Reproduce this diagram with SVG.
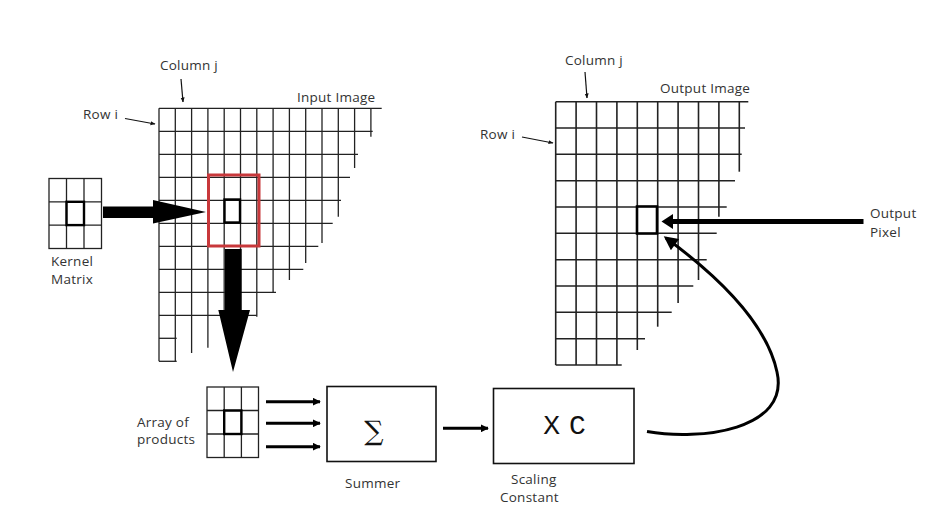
<svg xmlns="http://www.w3.org/2000/svg" width="930" height="525" viewBox="0 0 930 525">
<style>
  .t { font-family: "Open Sans", "DejaVu Sans", sans-serif; font-size: 13.5px; letter-spacing: 0.25px; fill: #333; }
  .g { stroke: #222; stroke-width: 1.3; fill: none; }
  .go { stroke: #222; stroke-width: 1.6; fill: none; }
  .thin { stroke: #111; stroke-width: 1.2; fill: none; }
  .box { stroke: #111; stroke-width: 1.6; fill: #fff; }
  .bold { stroke: #000; stroke-width: 2.4; fill: none; }
</style>
<defs>
  <marker id="sm" viewBox="0 0 10 10" refX="9" refY="5" markerWidth="5" markerHeight="5" orient="auto" markerUnits="userSpaceOnUse">
    <path d="M0,1 L10,5 L0,9 z" fill="#111"/>
  </marker>
  <marker id="md" viewBox="0 0 10 10" refX="9" refY="5" markerWidth="8" markerHeight="8" orient="auto" markerUnits="userSpaceOnUse">
    <path d="M0,0 L10,5 L0,10 z" fill="#000"/>
  </marker>
  <marker id="cv" viewBox="0 0 10 10" refX="8" refY="5" markerWidth="16" markerHeight="14" orient="auto" markerUnits="userSpaceOnUse">
    <path d="M0,0 L10,5 L0,10 z" fill="#000"/>
  </marker>
</defs>
<rect width="930" height="525" fill="#fff"/>

<g id="input-image">
  <g class="g">
    <line x1="159" y1="108.3" x2="381.7" y2="108.3"/>
    <line x1="159" y1="131.3" x2="372.7" y2="131.3"/>
    <line x1="159" y1="154.3" x2="358" y2="154.3"/>
    <line x1="159" y1="177.3" x2="350" y2="177.3"/>
    <line x1="159" y1="200.3" x2="341" y2="200.3"/>
    <line x1="159" y1="223.3" x2="332.7" y2="223.3"/>
    <line x1="159" y1="246.3" x2="318.3" y2="246.3"/>
    <line x1="159" y1="269.3" x2="303.3" y2="269.3"/>
    <line x1="159" y1="292.3" x2="276" y2="292.3"/>
    <line x1="159" y1="315.3" x2="256.7" y2="315.3"/>
    <line x1="159" y1="338.3" x2="176.7" y2="338.3"/>
    <line x1="159" y1="361.3" x2="176.7" y2="361.3"/>
    <line x1="159" y1="108.3" x2="159" y2="361.3"/>
    <line x1="175.3" y1="108.3" x2="175.3" y2="361.3"/>
    <line x1="191.6" y1="108.3" x2="191.6" y2="353"/>
    <line x1="207.9" y1="108.3" x2="207.9" y2="347.7"/>
    <line x1="224.2" y1="108.3" x2="224.2" y2="325"/>
    <line x1="240.5" y1="108.3" x2="240.5" y2="322"/>
    <line x1="256.8" y1="108.3" x2="256.8" y2="316.7"/>
    <line x1="273.1" y1="108.3" x2="273.1" y2="293"/>
    <line x1="289.4" y1="108.3" x2="289.4" y2="280"/>
    <line x1="305.7" y1="108.3" x2="305.7" y2="263"/>
    <line x1="322" y1="108.3" x2="322" y2="243"/>
    <line x1="338.3" y1="108.3" x2="338.3" y2="216.7"/>
    <line x1="354.6" y1="108.3" x2="354.6" y2="168"/>
    <line x1="370.9" y1="108.3" x2="370.9" y2="136.7"/>
  </g>
  <rect x="208.5" y="175" width="50.5" height="71" fill="none" stroke="#c8383b" stroke-width="3"/>
  <rect x="224.5" y="199.5" width="15.5" height="23" class="bold"/>
  <text class="t" x="160" y="70">Column j</text>
  <text class="t" x="297" y="102">Input Image</text>
  <text class="t" x="83" y="119">Row i</text>
</g>

<g id="kernel-matrix">
  <rect x="49" y="178.5" width="52.5" height="70" class="g"/>
  <g class="g">
    <line x1="66.5" y1="178.5" x2="66.5" y2="248.5"/>
    <line x1="84" y1="178.5" x2="84" y2="248.5"/>
    <line x1="49" y1="201.8" x2="101.5" y2="201.8"/>
    <line x1="49" y1="225.1" x2="101.5" y2="225.1"/>
  </g>
  <rect x="66.5" y="201.8" width="17.5" height="23.3" class="bold"/>
  <text class="t" x="51" y="266">Kernel</text>
  <text class="t" x="51" y="284">Matrix</text>
</g>

<g id="output-image">
  <g class="go">
    <line x1="555.7" y1="101.7" x2="748.3" y2="101.7"/>
    <line x1="555.7" y1="128" x2="745" y2="128"/>
    <line x1="555.7" y1="154.3" x2="741.7" y2="154.3"/>
    <line x1="555.7" y1="180.7" x2="735" y2="180.7"/>
    <line x1="555.7" y1="207" x2="726.7" y2="207"/>
    <line x1="555.7" y1="233.3" x2="716.7" y2="233.3"/>
    <line x1="555.7" y1="259.7" x2="706.7" y2="259.7"/>
    <line x1="555.7" y1="286" x2="693.3" y2="286"/>
    <line x1="555.7" y1="312.3" x2="671.7" y2="312.3"/>
    <line x1="555.7" y1="338.7" x2="645" y2="338.7"/>
    <line x1="555.7" y1="365" x2="621.7" y2="365"/>
    <line x1="555.7" y1="101.7" x2="555.7" y2="365"/>
    <line x1="576.1" y1="101.7" x2="576.1" y2="365"/>
    <line x1="596.5" y1="101.7" x2="596.5" y2="365"/>
    <line x1="616.9" y1="101.7" x2="616.9" y2="365"/>
    <line x1="637.3" y1="101.7" x2="637.3" y2="350"/>
    <line x1="657.7" y1="101.7" x2="657.7" y2="326.7"/>
    <line x1="678.1" y1="101.7" x2="678.1" y2="303"/>
    <line x1="698.5" y1="101.7" x2="698.5" y2="280"/>
    <line x1="718.9" y1="101.7" x2="718.9" y2="216.7"/>
    <line x1="739.3" y1="101.7" x2="739.3" y2="171.7"/>
  </g>
  <rect x="637" y="206.5" width="20" height="27" fill="#fff" stroke="#000" stroke-width="2.6"/>
  <text class="t" x="565" y="65">Column j</text>
  <text class="t" x="660" y="93">Output Image</text>
  <text class="t" x="480" y="139">Row i</text>
</g>

<g id="output-pixel">
  <text class="t" x="870" y="218">Output</text>
  <text class="t" x="870" y="237">Pixel</text>
</g>

<g id="array-of-products">
  <rect x="207" y="387" width="51.5" height="70.5" class="g"/>
  <g class="g">
    <line x1="224.2" y1="387" x2="224.2" y2="457.5"/>
    <line x1="241.4" y1="387" x2="241.4" y2="457.5"/>
    <line x1="207" y1="410.5" x2="258.5" y2="410.5"/>
    <line x1="207" y1="434" x2="258.5" y2="434"/>
  </g>
  <rect x="224.2" y="410.5" width="17.2" height="23.5" class="bold"/>
  <text class="t" x="137" y="427">Array of</text>
  <text class="t" x="137" y="444">products</text>
</g>

<g id="summer">
  <rect x="327" y="386.5" width="109" height="75" class="box"/>
  <text x="374" y="440" text-anchor="middle" font-family="'DejaVu Serif', serif" font-size="27" fill="#111">∑</text>
  <text class="t" x="345" y="488">Summer</text>
</g>

<g id="scaling-constant">
  <rect x="493.5" y="388.5" width="140.5" height="75" class="box"/>
  <text x="562.5" y="434" text-anchor="middle" font-family="'Liberation Mono', monospace" font-size="28" letter-spacing="-4" fill="#111">X C</text>
  <text class="t" x="511" y="484">Scaling</text>
  <text class="t" x="500" y="502">Constant</text>
</g>

<g id="connectors">
  <line x1="181" y1="79" x2="183" y2="102" class="thin" marker-end="url(#sm)"/>
  <line x1="125" y1="118.5" x2="155" y2="124" class="thin" marker-end="url(#sm)"/>
  <line x1="585" y1="72" x2="587" y2="98" class="thin" marker-end="url(#sm)"/>
  <line x1="522" y1="137" x2="553" y2="143" class="thin" marker-end="url(#sm)"/>
  <polygon points="103,206.5 153,206.5 153,200 206,212 153,223.5 153,218 103,218" fill="#000"/>
  <polygon points="225,249 241.7,249 241.7,310 250,310 233,372 218.3,310 225,310" fill="#000"/>
  <line x1="266" y1="401.7" x2="320" y2="401.7" stroke="#000" stroke-width="3" marker-end="url(#md)"/>
  <line x1="266" y1="423.3" x2="320" y2="423.3" stroke="#000" stroke-width="3" marker-end="url(#md)"/>
  <line x1="266" y1="446.7" x2="320" y2="446.7" stroke="#000" stroke-width="3" marker-end="url(#md)"/>
  <line x1="443" y1="428.3" x2="488" y2="428.3" stroke="#000" stroke-width="3" marker-end="url(#md)"/>
  <line x1="863.5" y1="221.5" x2="672" y2="221.5" stroke="#000" stroke-width="5"/>
  <polygon points="661.5,221.5 673,214 673,229" fill="#000"/>
  <path d="M647,431.5 C700,441 790,430 777,372 C768,330 730,285 666,238" fill="none" stroke="#000" stroke-width="3" marker-end="url(#cv)"/>
</g>
</svg>
